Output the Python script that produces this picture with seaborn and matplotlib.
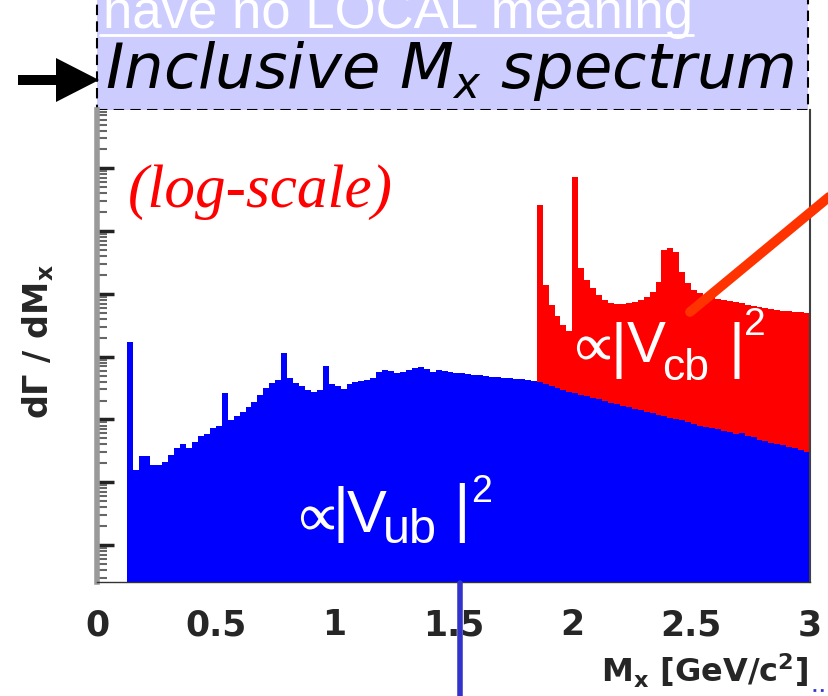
import numpy as np
import pandas as pd
import seaborn as sns
import matplotlib
matplotlib.use("Agg")
from matplotlib import pyplot as plt
from matplotlib import patheffects as pe
from matplotlib.patches import Rectangle, Polygon
from matplotlib.lines import Line2D
from matplotlib.ticker import LogLocator, NullFormatter

# ---- data (log10 of dGamma/dMx, arbitrary units) ----
bin_width = 0.025
ub_start = 0.125          # first filled blue bin
cb_start = 1.85           # first filled red bin
ub_log10 = [4.23, 2.19, 2.42, 2.42, 2.27, 2.27, 2.32, 2.43, 2.54, 2.61,
            2.54, 2.64, 2.74, 2.77, 2.86, 2.89, 3.42, 2.99, 3.05, 3.12,
            3.20, 3.28, 3.39, 3.50, 3.58, 3.63, 4.06, 3.66, 3.58, 3.53,
            3.47, 3.44, 3.47, 3.85, 3.56, 3.53, 3.48, 3.56, 3.60, 3.61,
            3.63, 3.66, 3.75, 3.79, 3.77, 3.74, 3.75, 3.79, 3.82, 3.83,
            3.80, 3.75, 3.79, 3.77, 3.75, 3.74, 3.74, 3.72, 3.71, 3.71,
            3.69, 3.68, 3.68, 3.66, 3.66, 3.64, 3.64, 3.63, 3.61, 3.60,
            3.56, 3.53, 3.50, 3.47, 3.44, 3.42, 3.39, 3.37, 3.34, 3.32,
            3.29, 3.26, 3.25, 3.21, 3.20, 3.17, 3.15, 3.12, 3.10, 3.07,
            3.05, 3.02, 3.01, 2.99, 2.96, 2.93, 2.89, 2.88, 2.86, 2.85,
            2.82, 2.80, 2.77, 2.78, 2.74, 2.72, 2.67, 2.66, 2.62, 2.61,
            2.59, 2.56, 2.54, 2.51, 2.48]
cb_log10 = [6.41, 5.14, 4.82, 4.65, 4.50, 4.41, 6.86, 5.41, 5.22, 5.09,
            4.98, 4.90, 4.85, 4.84, 4.84, 4.85, 4.87, 4.90, 4.95, 5.03,
            5.19, 5.70, 5.73, 5.67, 5.35, 5.17, 5.06, 5.01, 4.98, 4.95,
            4.92, 4.90, 4.89, 4.87, 4.85, 4.82, 4.81, 4.79, 4.77, 4.76,
            4.74, 4.73, 4.73, 4.71, 4.71, 4.70]
xtick_vals = [0, 0.5, 1, 1.5, 2, 2.5, 3]
xtick_labels = ["0", "0.5", "1", "1.5", "2", "2.5", "3"]

ub = pd.DataFrame({"mx": ub_start + bin_width * (np.arange(len(ub_log10)) + 0.5),
                   "rate": 10 ** np.array(ub_log10)})
cb = pd.DataFrame({"mx": cb_start + bin_width * (np.arange(len(cb_log10)) + 0.5),
                   "rate": 10 ** np.array(cb_log10)})

sns.set_style("white")
plt.rcParams["font.family"] = ["DejaVu Sans"]
plt.rcParams["mathtext.fontset"] = "dejavusans"
SANS = "Liberation Sans"

W, H = 829, 696
fig = plt.figure(figsize=(W / 100, H / 100), dpi=100)
T = fig.dpi_scale_trans
ax = fig.add_axes([97 / W, 1 - 582 / H, (810 - 97) / W, (582 - 110) / H])


def put(x, y, s, **kw):
    # place text by pixel position (y from top)
    return fig.text(x / 100, (H - y) / 100, s, transform=T, **kw)


def seg(x0, y0, x1, y1, **kw):
    fig.add_artist(Line2D([x0 / 100, x1 / 100], [(H - y0) / 100, (H - y1) / 100],
                          transform=T, **kw))


# histograms: total (red) behind, b->u (blue) in front
sns.histplot(data=cb, x="mx", weights="rate", binwidth=bin_width, binrange=(cb_start, 3),
             element="step", fill=True, color="#ff0000", alpha=1, linewidth=0,
             ax=ax, zorder=1)
sns.histplot(data=ub, x="mx", weights="rate", binwidth=bin_width, binrange=(ub_start, 3),
             element="step", fill=True, color="#0000ff", alpha=1, linewidth=0,
             ax=ax, zorder=2)
ax.set_yscale("log")
ax.set_xlim(0, 3)
ax.set_ylim(10 ** 0.41, 10 ** 7.93)

ax.set_xticks(xtick_vals, labels=xtick_labels, fontfamily="DejaVu Sans",
              fontweight="bold", fontsize=25)
ax.tick_params(axis="x", length=0, pad=19)
ax.yaxis.set_major_locator(LogLocator(base=10, numticks=20))
ax.yaxis.set_minor_locator(LogLocator(base=10, subs=np.arange(2, 10), numticks=50))
ax.yaxis.set_minor_formatter(NullFormatter())
ax.tick_params(axis="y", which="both", left=True, direction="in", labelleft=False)
ax.tick_params(axis="y", which="major", length=12, width=2.5, color="#222222")
ax.tick_params(axis="y", which="minor", length=7, width=1.5, color="#666666")
ax.set_xlabel("")
ax.set_ylabel("dΓ / dM$_\\mathbf{x}$", fontsize=24, fontweight="bold")
ax.yaxis.set_label_coords(-0.058, 0.51)

ax.spines["top"].set_visible(False)
ax.spines["left"].set_color("#9a9a9a")
ax.spines["left"].set_linewidth(4)
ax.spines["right"].set_color("#404040")
ax.spines["right"].set_linewidth(1.5)
ax.spines["bottom"].set_color("#333333")
ax.spines["bottom"].set_linewidth(1)

# banner
fig.add_artist(Rectangle((97 / 100, (H - 110) / 100), (808 - 97) / 100, 1.5,
                         transform=T, facecolor="#ccccff", edgecolor="black",
                         linestyle=(0, (5, 3)), linewidth=1.5, zorder=0))
put(103, 28, "have no LOCAL meaning", family=SANS, size=38, color="white")
seg(100, 35, 693, 35, color="white", lw=2)
put(105, 88, r"Inclusive $M_x$ spectrum", family="DejaVu Sans", style="italic",
    size=45, color="black")

# arrow at left
fig.add_artist(Polygon([(18 / 100, (H - 75) / 100), (56 / 100, (H - 75) / 100),
                        (56 / 100, (H - 58) / 100), (99 / 100, (H - 80) / 100),
                        (56 / 100, (H - 102) / 100), (56 / 100, (H - 85) / 100),
                        (18 / 100, (H - 85) / 100)],
                       closed=True, transform=T, facecolor="black", edgecolor="none"))

# annotations
put(128, 207, "(log-scale)", family="Liberation Serif", style="italic",
    size=44, color="#ff0000")

wkw = dict(color="white", zorder=5)
bold = [pe.withStroke(linewidth=1.2, foreground="white")]
put(589, 346, r"$\propto$", math_fontfamily="cm", size=34, ha="center", va="center",
    path_effects=bold, **wkw)
put(618, 366, "|", family=SANS, size=44, ha="center", **wkw)
put(627, 362, "V", family=SANS, size=42, **wkw)
put(662, 380, "cb", family=SANS, size=32, **wkw)
put(737, 366, "|", family=SANS, size=44, ha="center", **wkw)
put(744, 335, "2", family=SANS, size=28, **wkw)

put(313, 516, r"$\propto$", math_fontfamily="cm", size=34, ha="center", va="center",
    path_effects=bold, **wkw)
put(341, 530, "|", family=SANS, size=44, ha="center", **wkw)
put(347, 532, "V", family=SANS, size=43, **wkw)
put(383, 543, "ub", family=SANS, size=35, **wkw)
put(462, 530, "|", family=SANS, size=46, ha="center", **wkw)
put(471, 502, "2", family=SANS, size=27, **wkw)

put(808, 683, r"M$_\mathbf{x}$ [GeV/c$^{\mathbf{2}}$]", ha="right",
    family="DejaVu Sans", weight="bold", size=23)

# overlay strokes from the slide
seg(690, 312, 835, 192, color="#ff3300", lw=7, solid_capstyle="round", zorder=6)
seg(460, 583, 460, 700, color="#3333cc", lw=4, zorder=6)
seg(813, 690, 829, 690, color="#3333cc", lw=2, linestyle=":", zorder=6)

fig.savefig("out.png", dpi=100)
